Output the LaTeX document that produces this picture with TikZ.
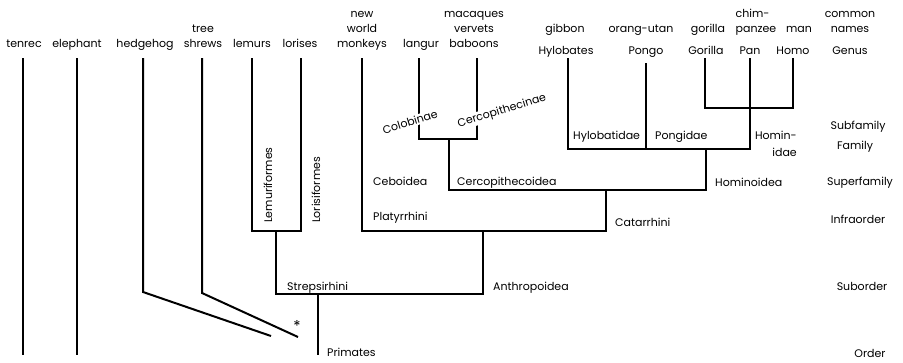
\documentclass[tikz,border=0pt]{standalone}
\usepackage{fontspec}
\setmainfont{Poppins}
\usetikzlibrary{positioning}

\begin{document}
\begin{tikzpicture}[
    x=1pt, y=-1pt,
    every node/.style={font=\fontsize{11}{15}\selectfont, inner sep=0pt},
    species/.style={align=center, anchor=base},
    taxon/.style={anchor=base west},
    rank/.style={align=center, anchor=base},
    tilted/.style={rotate=17, fill=white, inner sep=1pt},
    branch/.style={line width=2pt}
]
    \useasboundingbox (0,0) rectangle (903,362);

    % Tips of the branches
    \coordinate (tenrec) at (23,58);
    \coordinate (elephant) at (77,58);
    \coordinate (hedgehog) at (143,58);
    \coordinate (treeshrew) at (202,58);
    \coordinate (lemur) at (252,58);
    \coordinate (loris) at (301,58);
    \coordinate (nwmonkey) at (362,58);
    \coordinate (langur) at (419,58);
    \coordinate (baboon) at (477,58);
    \coordinate (hylobates) at (568,58);
    \coordinate (pongo) at (646,63);
    \coordinate (gorilla) at (705,58);
    \coordinate (pan) at (750,58);
    \coordinate (homo) at (793,58);

    % Common names
    \node[species] (n-tenrec) at (24,47) {tenrec};
    \node[species] (n-elephant) at (77,47) {elephant};
    \node[species] (n-hedgehog) at (145,47) {hedgehog};
    \node[species] (n-treeshrew) at (203,47) {tree\\shrews};
    \node[species] (n-lemur) at (252,47) {lemurs};
    \node[species] (n-loris) at (300,47) {lorises};
    \node[species] (n-nwmonkey) at (362,47) {new\\world\\monkeys};
    \node[species] (n-langur) at (421,47) {langur};
    \node[species] (n-baboon) at (474,47) {macaques\\vervets\\baboons};
    \node[species] (n-gibbon) at (565,32) {gibbon};
    \node[species] (n-orang) at (641,32) {orang-utan};
    \node[species] (n-gorilla) at (708,32) {gorilla};
    \node[species, align=left] (n-chimp) at (756,32) {chim-\\panzee};
    \node[species] (n-man) at (799,32) {man};

    % Genera
    \node[species] (g-hylobates) at (566,54) {Hylobates};
    \node[species] (g-pongo) at (646,54) {Pongo};
    \node[species] (g-gorilla) at (706,54) {Gorilla};
    \node[species] (g-pan) at (750,54) {Pan};
    \node[species] (g-homo) at (793,54) {Homo};

    % Ranks
    \node[rank] (r-common) at (850,32) {common\\names};
    \node[rank] (r-genus) at (850,54) {Genus};
    \node[rank] (r-subfamily) at (858,129) {Subfamily};
    \node[rank] (r-family) at (855,149) {Family};
    \node[rank] (r-superfamily) at (860,185) {Superfamily};
    \node[rank] (r-infraorder) at (858,223) {Infraorder};
    \node[rank] (r-suborder) at (862,290) {Suborder};
    \node[rank] (r-order) at (870,357) {Order};

    % Outgroups
    \draw[branch] (tenrec) -- (tenrec |- 0,355);
    \draw[branch] (elephant) -- (elephant |- 0,355);
    \draw[branch] (hedgehog) -- (hedgehog |- 0,292) -- (271,336);
    \draw[branch] (treeshrew) -- (treeshrew |- 0,293) -- (298,337);
    \node[font=\fontsize{15}{15}\selectfont] (star) at (297,326) {*};

    % Strepsirhini
    \draw[branch] (lemur) |- (301,231) -- (loris);
    \draw[branch] (276,231) |- (483,294) -- (483,231);
    \draw[branch] (318,294) -- (318,355);

    % Anthropoidea
    \draw[branch] (nwmonkey) |- (606,231) -- (606,190);
    \draw[branch] (langur) |- (477,139) -- (baboon);
    \draw[branch] (449,139) |- (706,190) -- (706,149);
    \draw[branch] (hylobates) |- (750,149) -- (pan);
    \draw[branch] (pongo) -- (pongo |- 0,149);
    \draw[branch] (gorilla) |- (793,108) -- (homo);

    % Taxon labels
    \node[taxon, rotate=90] (lemuriformes) at (272,223) {Lemuriformes};
    \node[taxon, rotate=90] (lorisiformes) at (320,223) {Lorisiformes};
    \node[taxon] (strepsirhini) at (287,290) {Strepsirhini};
    \node[taxon] (anthropoidea) at (493,290) {Anthropoidea};
    \node[taxon] (primates) at (327,356) {Primates};
    \node[taxon] (platyrrhini) at (373,220) {Platyrrhini};
    \node[taxon] (catarrhini) at (615,226) {Catarrhini};
    \node[taxon] (ceboidea) at (373,185) {Ceboidea};
    \node[taxon] (cercopithecoidea) at (457,185) {Cercopithecoidea};
    \node[taxon] (hominoidea) at (715,186) {Hominoidea};
    \node[taxon] (hylobatidae) at (573,139) {Hylobatidae};
    \node[taxon] (pongidae) at (655,139) {Pongidae};
    \node[anchor=base east, align=right, font=\fontsize{11}{17}\selectfont] (hominidae) at (797,156) {Homin-\\idae};
    \node[tilted] (colobinae) at (410,122) {Colobinae};
    \node[tilted] (cercopithecinae) at (502,111) {Cercopithecinae};
\end{tikzpicture}
\end{document}
